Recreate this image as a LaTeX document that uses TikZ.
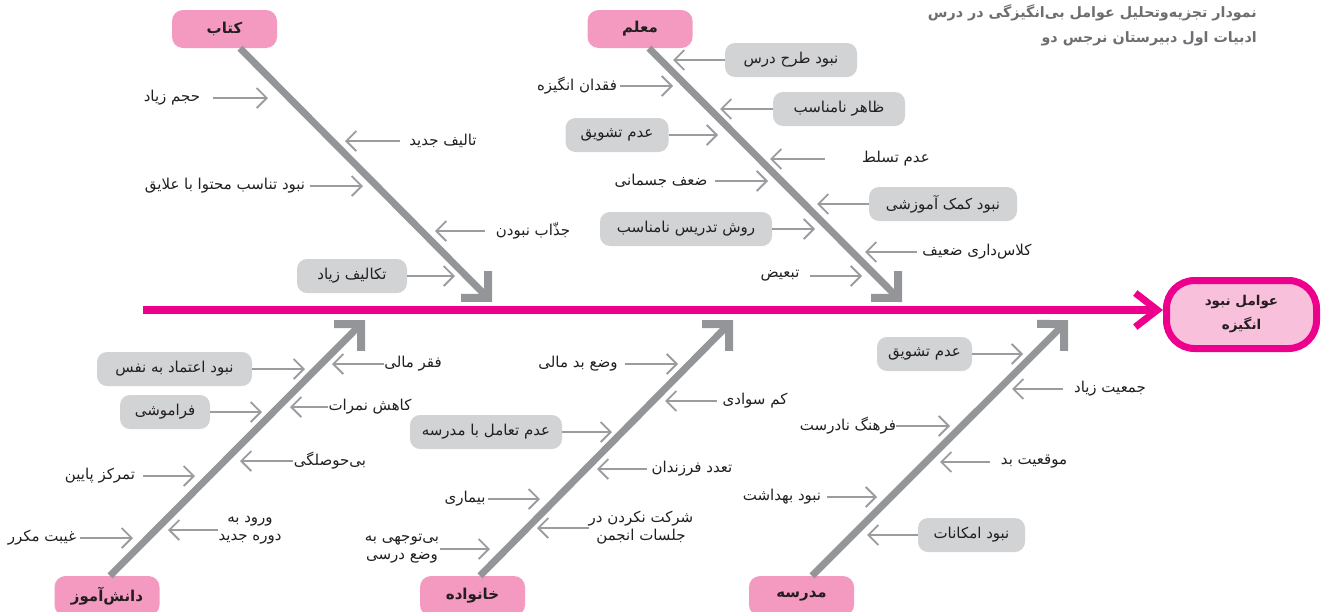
\documentclass[tikz,border=0pt]{standalone}
\usepackage{fontspec}
\usetikzlibrary{arrows.meta}
\TeXXeTstate=1
\newfontfamily\fafont[Script=Arabic]{DejaVu Sans}
\newcommand{\pfa}[1]{\beginR #1\endR}
\newcommand{\zw}{^^^^200c}
\definecolor{bonegray}{HTML}{939598}
\definecolor{arrgray}{HTML}{9A9C9F}
\definecolor{boxgray}{HTML}{D1D3D4}
\definecolor{catpink}{HTML}{F49AC1}
\definecolor{magentaline}{HTML}{EC008C}
\definecolor{effpink}{HTML}{F9C0DB}
\definecolor{txt}{HTML}{231F20}
\definecolor{titlegray}{HTML}{6D6E71}
\tikzset{
  every node/.style={font=\fafont\fontsize{15}{18}\selectfont, text=txt},
  cat/.style={fill=catpink, rounded corners=11pt, minimum width=105pt, minimum height=38pt, inner sep=0pt, font=\fafont\bfseries\fontsize{15}{18}\selectfont},
  gbox/.style={fill=boxgray, rounded corners=10pt, minimum height=34pt, inner sep=0pt},
  ctext/.style={inner sep=0pt, minimum height=16pt, align=center},
  bone/.style={draw=bonegray, line width=7pt, -{Straight Barb[length=19pt, width=38pt, line width=8pt, line join=miter, line cap=butt]}},
  sub/.style={draw=arrgray, line width=1.8pt, -{Straight Barb[length=10pt, width=20pt, line width=1.8pt]}},
  spine/.style={draw=magentaline, line width=8pt, -{Straight Barb[length=22pt, width=34pt, line width=7pt, line join=miter, line cap=butt]}},
  effect/.style={draw=magentaline, line width=7pt, fill=effpink, rounded corners=28pt, minimum width=150pt, minimum height=68pt, inner sep=0pt, align=center, font=\fafont\bfseries\fontsize{13.5}{24}\selectfont},
  titletext/.style={align=right, inner sep=0pt, text=titlegray, font=\fafont\bfseries\fontsize{14.3}{25}\selectfont},
}
\begin{document}
\begin{tikzpicture}[x=1pt,y=-1pt]
\useasboundingbox (0,0) rectangle (1325,611);
% title
\node[titletext, anchor=north east] (title) at (1257,4) {\pfa{نمودار تجزیه\zw وتحلیل عوامل بی\zw انگیزگی در درس}\\\pfa{ادبیات اول دبیرستان نرجس دو}};
% effect and spine
\node[effect] (eff) at (1241.5,314.5) {\pfa{عوامل نبود}\\\pfa{انگیزه}};
\coordinate (spst) at (143,310);
\draw[spine] (spst) -- (eff.west |- spst);
% category boxes
\node[cat] (kitab) at (224.5,29) {\pfa{کتاب}};
\node[cat] (moallem) at (640,29) {\pfa{معلم}};
\node[cat, minimum height=40pt] (danesh) at (107,596) {\pfa{دانش\zw آموز}};
\node[cat, minimum height=40pt] (khan) at (472.5,596) {\pfa{خانواده}};
\node[cat, minimum height=40pt] (madr) at (801.5,596) {\pfa{مدرسه}};
% bone tips
\coordinate (kt) at (492,302);
\coordinate (mt) at (902,302);
\coordinate (dt) at (365,320);
\coordinate (ht) at (733,320);
\coordinate (st) at (1068,320);
\draw[bone] ([xshift=15.5pt]kitab.south) -- (kt);
\draw[bone] ([xshift=9pt]moallem.south) -- (mt);
\draw[bone] ([xshift=3pt]danesh.north) -- (dt);
\draw[bone] ([xshift=7.5pt]khan.north) -- (ht);
\draw[bone] ([xshift=10.5pt]madr.north) -- (st);
% ---- Kitab causes
\node[ctext, minimum width=82pt] (k1) at (172,98) {\pfa{حجم زیاد}};
\node[ctext, minimum width=86pt] (k2) at (443,141) {\pfa{تالیف جدید}};
\node[ctext, minimum width=170pt] (k3) at (225,186) {\pfa{نبود تناسب محتوا با علایق}};
\node[ctext, minimum width=96pt] (k4) at (533,231) {\pfa{جذّاب نبودن}};
\node[gbox, minimum width=110pt] (k5) at (352,276) {\pfa{تکالیف زیاد}};
\coordinate (k1h) at (268,98);
\coordinate (k2h) at (345,141);
\coordinate (k3h) at (363,186);
\coordinate (k4h) at (435,231);
\coordinate (k5h) at (455,276);
\foreach \n in {k1,k2,k3,k4,k5} {\draw[sub] (\n) -- (\n h);}
% ---- Moallem causes
\node[gbox, minimum width=132pt] (m1) at (791,60) {\pfa{نبود طرح درس}};
\node[ctext, minimum width=86pt] (m2) at (577,86) {\pfa{فقدان انگیزه}};
\node[gbox, minimum width=132pt] (m3) at (839,109) {\pfa{ظاهر نامناسب}};
\node[gbox, minimum width=103pt] (m4) at (617,135) {\pfa{عدم تشویق}};
\node[ctext, minimum width=142pt] (m5) at (896,159) {\pfa{عدم تسلط}};
\node[ctext, minimum width=108pt] (m6) at (661,181) {\pfa{ضعف جسمانی}};
\node[gbox, minimum width=148pt] (m7) at (943,204) {\pfa{نبود کمک آموزشی}};
\node[gbox, minimum width=172pt] (m8) at (686,229) {\pfa{روش تدریس نامناسب}};
\node[ctext, minimum width=120pt] (m9) at (977,252) {\pfa{کلاس\zw داری ضعیف}};
\node[ctext, minimum width=60pt] (m10) at (780,276) {\pfa{تبعیض}};
\coordinate (m1h) at (673,60);
\coordinate (m2h) at (673,86);
\coordinate (m3h) at (720,109);
\coordinate (m4h) at (718,135);
\coordinate (m5h) at (770,159);
\coordinate (m6h) at (768,181);
\coordinate (m7h) at (817,204);
\coordinate (m8h) at (815,229);
\coordinate (m9h) at (865,252);
\coordinate (m10h) at (862,276);
\foreach \n in {m1,m2,m3,m4,m5,m6,m7,m8,m9,m10} {\draw[sub] (\n) -- (\n h);}
% ---- Daneshamooz causes
\node[gbox, minimum width=155pt] (d1) at (174.5,369) {\pfa{نبود اعتماد به نفس}};
\node[ctext, minimum width=52pt] (d2) at (413,364) {\pfa{فقر مالی}};
\node[gbox, minimum width=90pt] (d3) at (165,412) {\pfa{فراموشی}};
\node[ctext, minimum width=56pt] (d4) at (370,407) {\pfa{کاهش نمرات}};
\node[ctext, minimum width=74pt] (d5) at (330,461) {\pfa{بی\zw حوصلگی}};
\node[ctext, minimum width=86pt] (d6) at (100,476) {\pfa{تمرکز پایین}};
\node[ctext, minimum width=60pt] (d7) at (250,530) {\pfa{ورود به}\\\pfa{دوره جدید}};
\node[ctext, minimum width=76pt] (d8) at (42,538) {\pfa{غیبت مکرر}};
\coordinate (d1h) at (305,369);
\coordinate (d2h) at (332,364);
\coordinate (d3h) at (262,412);
\coordinate (d4h) at (290,407);
\coordinate (d5h) at (240,461);
\coordinate (d6h) at (195,476);
\coordinate (d7h) at (168,530);
\coordinate (d8h) at (133,538);
\foreach \n in {d1,d2,d3,d4,d5,d6,d7,d8} {\draw[sub] (\n) -- (\n h);}
% ---- Khanevadeh causes
\node[ctext, minimum width=94pt] (h1) at (578,364) {\pfa{وضع بد مالی}};
\node[ctext, minimum width=76pt] (h2) at (755,401) {\pfa{کم سوادی}};
\node[gbox, minimum width=152pt] (h3) at (486,432) {\pfa{عدم تعامل با مدرسه}};
\node[ctext, minimum width=90pt] (h4) at (692,469) {\pfa{تعدد فرزندان}};
\node[ctext, minimum width=46pt] (h5) at (465,499) {\pfa{بیماری}};
\node[ctext, minimum width=102pt] (h6) at (641,528) {\pfa{شرکت نکردن در}\\\pfa{جلسات انجمن}};
\node[ctext, minimum width=76pt] (h7) at (402,549) {\pfa{بی\zw توجهی به}\\\pfa{وضع درسی}};
\coordinate (h1h) at (678,364);
\coordinate (h2h) at (665,401);
\coordinate (h3h) at (612,432);
\coordinate (h4h) at (597,469);
\coordinate (h5h) at (540,499);
\coordinate (h6h) at (537,528);
\coordinate (h7h) at (490,549);
\foreach \n in {h1,h2,h3,h4,h5,h6,h7} {\draw[sub] (\n) -- (\n h);}
% ---- Madrese causes
\node[gbox, minimum width=95pt] (s1) at (924.5,354) {\pfa{عدم تشویق}};
\node[ctext, minimum width=94pt] (s2) at (1110,389) {\pfa{جمعیت زیاد}};
\node[ctext, minimum width=94pt] (s3) at (848,426) {\pfa{فرهنگ نادرست}};
\node[ctext, minimum width=88pt] (s4) at (1034,462) {\pfa{موقعیت بد}};
\node[ctext, minimum width=90pt] (s5) at (782,497) {\pfa{نبود بهداشت}};
\node[gbox, minimum width=107pt] (s6) at (971.5,535) {\pfa{نبود امکانات}};
\coordinate (s1h) at (1023,354);
\coordinate (s2h) at (1012,389);
\coordinate (s3h) at (950,426);
\coordinate (s4h) at (940,462);
\coordinate (s5h) at (877,497);
\coordinate (s6h) at (867,535);
\foreach \n in {s1,s2,s3,s4,s5,s6} {\draw[sub] (\n) -- (\n h);}
\end{tikzpicture}
\end{document}
